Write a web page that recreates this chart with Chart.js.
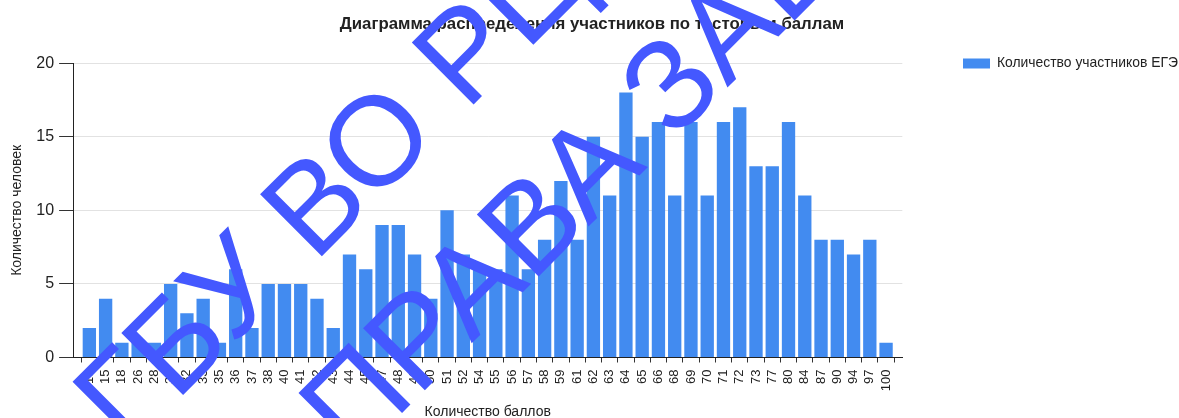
<!DOCTYPE html>
<html><head><meta charset="utf-8">
<script src="https://cdn.jsdelivr.net/npm/chart.js@4/dist/chart.umd.min.js"></script>
<style>html,body{margin:0;padding:0;background:#fff;}#wrap{position:relative;width:1179px;height:418px;}</style>
</head><body><div id="wrap"><canvas id="c" width="1179" height="418"></canvas></div>
<script>
const chartTitle = 'Диаграмма распределения участников по тестовым баллам';
const seriesName = 'Количество участников ЕГЭ';
const xTitle = 'Количество баллов';
const yTitle = 'Количество человек';
const scores = ['13','15','18','26','28','30','32','33','35','36','37','38','40','41','42','43','44','45','47','48','49','50','51','52','54','55','56','57','58','59','61','62','63','64','65','66','68','69','70','71','72','73','77','80','84','87','90','94','97','100'];
const counts = [2,4,1,1,1,5,3,4,1,6,2,5,5,5,4,2,7,6,9,9,7,4,10,7,6,6,11,6,8,12,8,15,11,18,15,16,11,16,11,16,17,13,13,16,11,8,8,7,8,1];
const yTicks = [0,5,10,15,20];
const watermarkLines = ['ГБУ ВО РЦОКО', 'ПРАВА ЗАЩИЩЕНЫ'];

const FONT = '"Liberation Sans", Arial, sans-serif';
Chart.defaults.font.family = FONT;
Chart.defaults.color = '#222';

// pad the category axis with an empty slot on each side (axis ends carry ticks)
const labels = [''].concat(scores, ['']);
const values = [null].concat(counts, [null]);

const legendPlace = {
  id: 'legendPlace',
  afterLayout(chart) {
    const lg = chart.legend; if (!lg) return;
    const pad = lg.options.labels.padding, ih = 13.9;
    const h = lg.height;
    lg.left = 963 - pad; lg.right = chart.width; lg.width = lg.right - lg.left;
    lg.top = 63.5 - pad - ih / 2; lg.bottom = lg.top + h;
  }
};
const watermark = {
  id: 'watermark',
  afterDraw(chart) {
    const ctx = chart.ctx;
    ctx.save();
    ctx.fillStyle = '#4458FF';
    ctx.font = '127px ' + FONT;
    ctx.textBaseline = 'alphabetic';
    const origins = [[127, 451], [353, 462]];
    watermarkLines.forEach((t, i) => {
      ctx.save();
      ctx.translate(origins[i][0], origins[i][1]);
      ctx.rotate(-Math.PI / 4);
      ctx.fillText(t, 0, 0);
      ctx.restore();
    });
    ctx.restore();
  }
};

new Chart(document.getElementById('c'), {
  type: 'bar',
  data: {
    labels: labels,
    datasets: [{
      label: seriesName,
      data: values,
      backgroundColor: '#428BF0',
      borderWidth: 0,
      categoryPercentage: 1,
      barPercentage: 0.82
    }]
  },
  options: {
    responsive: false,
    animation: false,
    devicePixelRatio: 1,
    layout: { padding: { left: 5, right: 0, top: 0, bottom: 0 } },
    plugins: {
      title: {
        display: true, text: chartTitle, color: '#222',
        font: { size: 16.8, weight: 'bold' },
        padding: { top: 14, bottom: 29 }
      },
      legend: {
        position: 'right', align: 'start',
        labels: { boxWidth: 27, boxHeight: 10, padding: 10, font: { size: 13.9 }, color: '#222' }
      },
      tooltip: { enabled: false }
    },
    scales: {
      x: {
        offset: false,
        grid: { display: true, drawOnChartArea: false, drawTicks: true, tickLength: 5, tickColor: '#333' },
        border: { display: true, color: '#222', width: 1 },
        ticks: { autoSkip: false, minRotation: 90, maxRotation: 90, font: { size: 13 }, color: '#222', padding: 7 },
        title: { display: true, text: xTitle, font: { size: 14 }, color: '#222', padding: { top: 6, bottom: -3 } }
      },
      y: {
        min: 0, max: 20,
        afterBuildTicks(s) { s.ticks = yTicks.map(v => ({ value: v })); },
        ticks: { font: { size: 16 }, color: '#222', padding: 5 },
        grid: { color: '#e2e2e2', lineWidth: 1, tickLength: 14, tickColor: '#333' },
        border: { display: true, color: '#222', width: 1 },
        title: { display: true, text: yTitle, font: { size: 14 }, color: '#222', padding: { top: 4, bottom: 5.5 } }
      },
      gap: {
        position: 'right', display: true,
        grid: { display: false }, border: { display: false }, ticks: { display: false },
        afterFit(s) { s.width = 81; }
      }
    }
  },
  plugins: [legendPlace, watermark]
});
</script>
</body></html>
